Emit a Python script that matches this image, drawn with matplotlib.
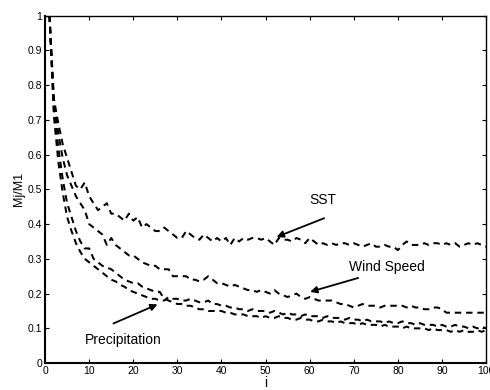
import numpy as np
import matplotlib.pyplot as plt

plt.rcParams['font.family'] = ['Liberation Sans', 'DejaVu Sans']

# index i = 1..100
i_vals = list(range(1, 101))

sst = [1.00, 0.76, 0.69, 0.63, 0.59, 0.55, 0.51, 0.50, 0.52, 0.48,
       0.46, 0.44, 0.45, 0.46, 0.43, 0.43, 0.42, 0.41, 0.43, 0.41,
       0.42, 0.39, 0.40, 0.39, 0.38, 0.38, 0.39, 0.38, 0.37, 0.36,
       0.36, 0.38, 0.37, 0.36, 0.355, 0.37, 0.36, 0.35, 0.36, 0.35,
       0.36, 0.34, 0.36, 0.35, 0.36, 0.355, 0.36, 0.36, 0.355, 0.36,
       0.35, 0.34, 0.36, 0.355, 0.355, 0.35, 0.36, 0.355, 0.345, 0.36,
       0.35, 0.34, 0.345, 0.34, 0.345, 0.34, 0.345, 0.345, 0.34, 0.345,
       0.34, 0.335, 0.34, 0.345, 0.335, 0.335, 0.34, 0.335, 0.335, 0.325,
       0.34, 0.35, 0.34, 0.34, 0.34, 0.345, 0.34, 0.345, 0.345, 0.34,
       0.345, 0.34, 0.345, 0.335, 0.34, 0.345, 0.34, 0.345, 0.34, 0.335]

wind = [1.00, 0.75, 0.66, 0.59, 0.54, 0.51, 0.48, 0.46, 0.44, 0.40,
        0.39, 0.38, 0.37, 0.34, 0.36, 0.34, 0.33, 0.32, 0.31, 0.31,
        0.30, 0.29, 0.285, 0.28, 0.28, 0.27, 0.27, 0.27, 0.25, 0.25,
        0.25, 0.25, 0.24, 0.24, 0.235, 0.24, 0.25, 0.24, 0.23, 0.23,
        0.225, 0.22, 0.225, 0.22, 0.215, 0.21, 0.21, 0.205, 0.21, 0.205,
        0.20, 0.21, 0.20, 0.195, 0.19, 0.195, 0.20, 0.19, 0.185, 0.19,
        0.185, 0.18, 0.18, 0.18, 0.18, 0.175, 0.17, 0.17, 0.165, 0.16,
        0.165, 0.17, 0.165, 0.165, 0.165, 0.16, 0.165, 0.165, 0.165, 0.165,
        0.165, 0.16, 0.165, 0.16, 0.16, 0.155, 0.155, 0.16, 0.16, 0.155,
        0.145, 0.145, 0.145, 0.145, 0.145, 0.145, 0.145, 0.145, 0.145, 0.145]

precip = [1.00, 0.73, 0.62, 0.53, 0.46, 0.42, 0.38, 0.35, 0.33, 0.33,
          0.30, 0.29, 0.28, 0.275, 0.27, 0.26, 0.25, 0.24, 0.235, 0.23,
          0.23, 0.22, 0.215, 0.21, 0.205, 0.205, 0.185, 0.18, 0.175, 0.17,
          0.17, 0.165, 0.165, 0.16, 0.155, 0.155, 0.15, 0.15, 0.15, 0.15,
          0.145, 0.145, 0.14, 0.14, 0.14, 0.135, 0.135, 0.135, 0.13, 0.135,
          0.13, 0.13, 0.135, 0.13, 0.13, 0.125, 0.125, 0.13, 0.125, 0.125,
          0.12, 0.12, 0.125, 0.12, 0.12, 0.115, 0.12, 0.115, 0.115, 0.115,
          0.11, 0.115, 0.11, 0.11, 0.11, 0.105, 0.11, 0.105, 0.105, 0.105,
          0.10, 0.105, 0.10, 0.10, 0.10, 0.10, 0.095, 0.10, 0.095, 0.095,
          0.095, 0.09, 0.095, 0.09, 0.095, 0.09, 0.09, 0.095, 0.09, 0.095]

other = [1.00, 0.71, 0.58, 0.49, 0.42, 0.38, 0.345, 0.32, 0.30, 0.29,
         0.28, 0.27, 0.26, 0.25, 0.24, 0.235, 0.225, 0.22, 0.21, 0.205,
         0.20, 0.195, 0.19, 0.185, 0.185, 0.18, 0.18, 0.19, 0.185, 0.185,
         0.18, 0.18, 0.185, 0.18, 0.175, 0.175, 0.18, 0.17, 0.17, 0.165,
         0.165, 0.16, 0.16, 0.155, 0.155, 0.15, 0.155, 0.15, 0.15, 0.15,
         0.145, 0.15, 0.145, 0.14, 0.145, 0.14, 0.14, 0.135, 0.14, 0.135,
         0.135, 0.135, 0.13, 0.135, 0.13, 0.13, 0.13, 0.125, 0.13, 0.125,
         0.125, 0.12, 0.125, 0.12, 0.12, 0.12, 0.115, 0.12, 0.115, 0.115,
         0.12, 0.115, 0.115, 0.11, 0.115, 0.11, 0.11, 0.11, 0.105, 0.11,
         0.105, 0.105, 0.11, 0.105, 0.105, 0.10, 0.105, 0.10, 0.105, 0.10]

# label text, text position, arrow tail, arrow head (data coords)
labels = [('SST', (63, 0.47), (63.3, 0.417), (52.5, 0.363)),
          ('Wind Speed', (77.5, 0.276), (71.0, 0.245), (60.1, 0.205)),
          ('Precipitation', (17.7, 0.066), (15.5, 0.114), (25.5, 0.169))]

fig = plt.figure(figsize=(4.9, 3.9), dpi=100)
ax = fig.add_axes([0.092, 0.069, 0.9, 0.891])

dash = (0, (3.2, 2.4))
for series in (sst, wind, other, precip):
    ax.plot(i_vals, series, color='black', lw=1.45, linestyle=dash)

ax.set_xlim(0, 100)
ax.set_ylim(0, 1)
ax.set_xticks(np.arange(0, 101, 10))
ax.set_yticks(np.arange(0, 1.01, 0.1))
ax.set_yticklabels(['0', '0.1', '0.2', '0.3', '0.4', '0.5', '0.6', '0.7', '0.8', '0.9', '1'])
ax.tick_params(direction='in', top=True, right=True, labelsize=7.5, length=3, pad=2)
for side in ('left', 'bottom'):
    ax.spines[side].set_linewidth(1.5)
for side in ('top', 'right'):
    ax.spines[side].set_linewidth(1.0)

ax.set_xlabel('i', fontsize=10, labelpad=0)
ax.set_ylabel('Mj/M1', fontsize=9, labelpad=2)

for text, pos, tail, head in labels:
    ax.text(pos[0], pos[1], text, fontsize=10, ha='center', va='center')
    ax.annotate('', xy=head, xytext=tail,
                arrowprops=dict(arrowstyle='-|>', color='black', lw=1.3,
                                mutation_scale=10, shrinkA=0, shrinkB=0))

fig.savefig('out.png', dpi=100)
